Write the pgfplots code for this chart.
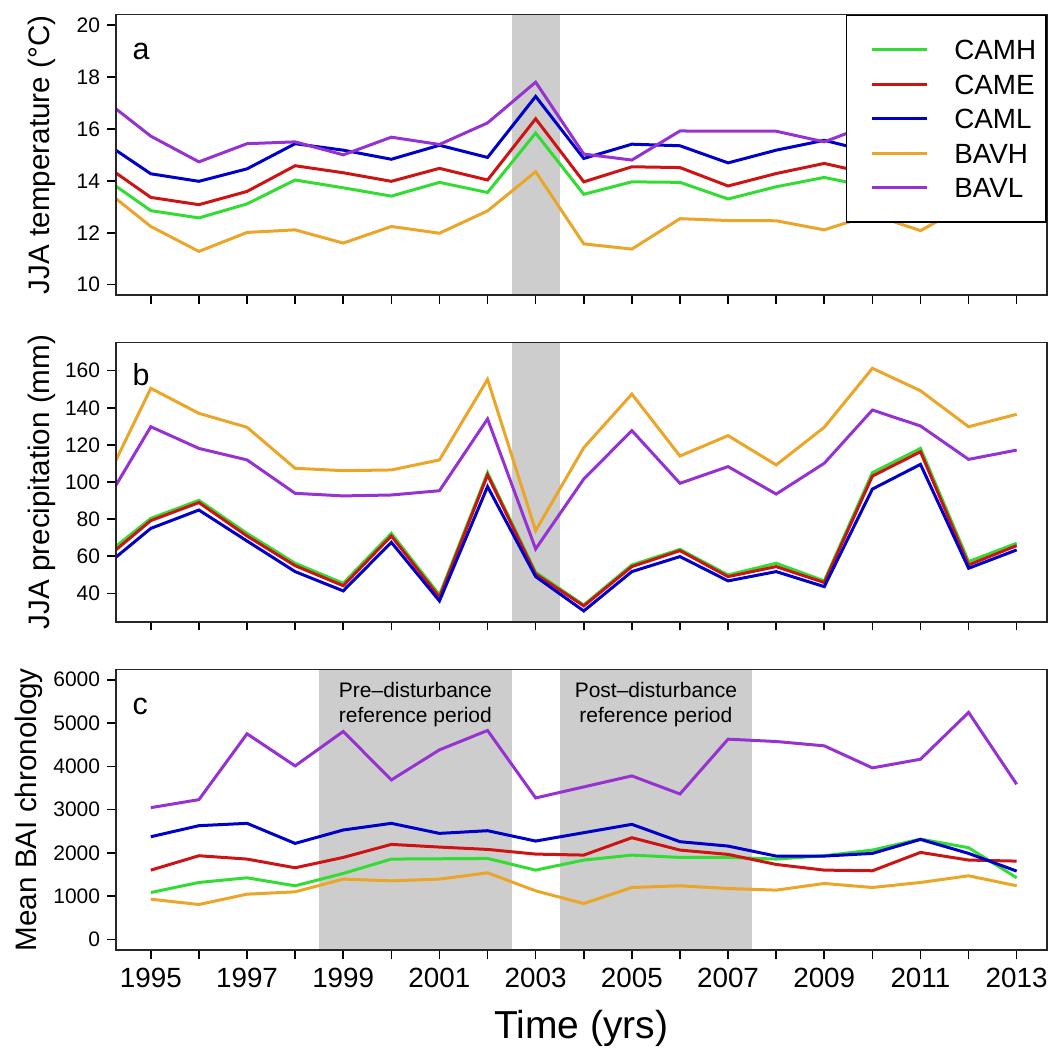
\documentclass[border=0pt]{standalone}
\usepackage{pgfplots}
\pgfplotsset{compat=1.18}
\usepackage{pgfplotstable}
\usepackage{fontspec}
\setmainfont{Liberation Sans}

\definecolor{cCAMH}{RGB}{50,220,50}
\definecolor{cCAME}{RGB}{205,20,20}
\definecolor{cCAML}{RGB}{0,0,200}
\definecolor{cBAVH}{RGB}{235,165,40}
\definecolor{cBAVL}{RGB}{150,50,210}
\definecolor{shade}{RGB}{205,205,205}

% June-August mean temperature (deg C)
\pgfplotstableread{
year CAMH  CAME  CAML  BAVH  BAVL
1994 14.15 14.66 15.52 13.72 17.17
1995 12.85 13.36 14.27 12.24 15.72
1996 12.57 13.08 13.98 11.28 14.73
1997 13.11 13.59 14.46 12.01 15.43
1998 14.03 14.58 15.43 12.11 15.50
1999 13.73 14.31 15.18 11.60 15.00
2000 13.41 13.98 14.83 12.24 15.68
2001 13.94 14.48 15.37 11.98 15.40
2002 13.55 14.03 14.90 12.84 16.23
2003 15.84 16.39 17.25 14.35 17.80
2004 13.48 13.96 14.86 11.57 15.03
2005 13.96 14.54 15.41 11.37 14.80
2006 13.94 14.51 15.35 12.54 15.92
2007 13.30 13.80 14.69 12.47 15.91
2008 13.77 14.28 15.18 12.46 15.91
2009 14.13 14.67 15.56 12.11 15.50
2010 13.75 14.25 15.10 12.70 16.20
2011 14.10 14.60 15.40 12.08 15.90
2012 13.60 14.10 15.00 13.10 15.60
2013 13.90 14.40 15.30 12.90 15.80
}\temptable

% June-August precipitation (mm)
\pgfplotstableread{
year CAMH  CAME  CAML  BAVH  BAVL
1994 59.6  57.5  53.6  97.1  86.3
1995 80.4  79.2  75.0  150.5 129.8
1996 90.1  88.9  84.9  137.0 118.1
1997 72.3  70.9  68.2  129.5 111.9
1998 56.2  54.9  51.7  107.4 93.9
1999 45.4  44.1  41.3  106.1 92.5
2000 72.3  70.9  67.5  106.5 93.0
2001 39.1  37.9  35.9  111.9 95.3
2002 105.0 103.8 97.5  155.3 134.0
2003 51.3  50.4  49.0  73.8  63.9
2004 33.7  33.2  30.5  118.5 101.6
2005 55.3  54.4  51.7  147.4 127.7
2006 63.7  63.0  59.8  114.0 99.3
2007 49.9  49.0  46.7  125.0 108.3
2008 56.2  54.4  51.7  109.2 93.5
2009 46.7  45.8  43.6  129.5 110.1
2010 105.0 103.2 96.2  161.3 138.8
2011 118.1 116.3 109.5 149.2 130.2
2012 57.1  55.3  53.5  129.8 112.2
2013 67.0  65.7  63.4  136.5 117.2
}\prectable

% Mean basal area increment chronologies
\pgfplotstableread{
year CAMH CAME CAML BAVH BAVL
1995 1087 1604 2375 933  3046
1996 1319 1936 2630 810  3231
1997 1427 1859 2684 1049 4751
1998 1242 1658 2221 1103 4010
1999 1527 1897 2530 1396 4805
2000 1859 2198 2684 1357 3686
2001 1866 2136 2452 1396 4380
2002 1874 2082 2514 1542 4828
2003 1604 1974 2275 1126 3270
2004 1836 1951 2468 833  3525
2005 1951 2352 2661 1203 3779
2006 1897 2067 2260 1242 3362
2007 1897 1967 2159 1180 4627
2008 1859 1735 1928 1142 4573
2009 1936 1604 1928 1296 4473
2010 2067 1589 1990 1203 3964
2011 2321 2013 2313 1319 4164
2012 2121 1836 1990 1473 5244
2013 1427 1812 1581 1242 3586
}\baitable

\pgfplotsset{
  panel/.style={
    scale only axis,
    width=465.65pt,
    xmin=1994.27, xmax=2013.63,
    axis on top,
    tick align=outside,
    major tick length=4.3pt,
    xtick={1995,...,2013},
    xtick pos=lower, ytick pos=left,
    tick style={line width=0.8pt, black},
    axis line style={line width=0.8pt, black!85},
    yticklabel={\pgfmathprintnumber[assume math mode=true, 1000 sep={}]{\tick}},
    yticklabel style={font=\fontsize{10.5}{12}\selectfont},
    xticklabel style={font=\fontsize{13.9}{16}\selectfont, yshift=-1pt},
    ylabel style={font=\fontsize{14.8}{17}\selectfont, anchor=center},
    every axis plot/.append style={line width=1.5pt},
  },
}
\tikzset{
  letter/.style={anchor=base west, inner sep=0pt, font=\fontsize{15.2}{17}\selectfont,
    xshift=8.3pt, yshift=-22.6pt},
}

\begin{document}
\begin{tikzpicture}

% ---------- a: temperature ----------
\begin{axis}[panel,
  at={(57.85pt,-7.35pt)}, anchor=north west, height=140.15pt,
  ymin=9.6, ymax=20.4, ytick={10,12,...,20},
  xticklabel=\empty,
  ylabel={JJA temperature (°C)},
  ylabel style={at={(axis description cs:-0.079,0.5)}},
  legend cell align=left,
  legend style={at={(rel axis cs:1,1)}, anchor=north east,
    draw=black, line width=0.9pt, fill=white,
    inner xsep=5pt, inner ysep=12pt,
    row sep=7.3pt, column sep=12.7pt,
    font=\fontsize{13.9}{16}\selectfont,
    nodes={inner sep=0pt, text height=10pt, text depth=0pt}},
  legend image code/.code={\path[draw=none] (0pt,0pt) -- (7.6pt,0pt);
    \draw[#1, line width=1.5pt] (7.6pt,0pt) -- (35.4pt,0pt);},
]
\addplot[draw=none, fill=shade, forget plot] coordinates
  {(2002.5,0) (2002.5,30) (2003.5,30) (2003.5,0)} -- cycle;
\addplot[cCAMH] table[x=year, y=CAMH] {\temptable};
\addplot[cCAME] table[x=year, y=CAME] {\temptable};
\addplot[cCAML] table[x=year, y=CAML] {\temptable};
\addplot[cBAVH] table[x=year, y=BAVH] {\temptable};
\addplot[cBAVL] table[x=year, y=BAVL] {\temptable};
\legend{CAMH, CAME, CAML, BAVH, BAVL}
\node[letter] at (rel axis cs:0,1) {a};
\end{axis}

% ---------- b: precipitation ----------
\begin{axis}[panel,
  at={(57.85pt,-171.15pt)}, anchor=north west, height=139.7pt,
  ymin=24.7, ymax=175.3, ytick={40,60,...,160},
  xticklabel=\empty,
  ylabel={JJA precipitation (mm)},
  ylabel style={at={(axis description cs:-0.079,0.5)}},
]
\addplot[draw=none, fill=shade, forget plot] coordinates
  {(2002.5,0) (2002.5,300) (2003.5,300) (2003.5,0)} -- cycle;
\addplot[cCAMH] table[x=year, y=CAMH] {\prectable};
\addplot[cCAME] table[x=year, y=CAME] {\prectable};
\addplot[cCAML] table[x=year, y=CAML] {\prectable};
\addplot[cBAVH] table[x=year, y=BAVH] {\prectable};
\addplot[cBAVL] table[x=year, y=BAVL] {\prectable};
\node[letter, yshift=0.9pt] at (rel axis cs:0,1) {b};
\end{axis}

% ---------- c: BAI chronologies ----------
\begin{axis}[panel,
  at={(57.85pt,-334.65pt)}, anchor=north west, height=140.35pt,
  ymin=-240, ymax=6240, ytick={0,1000,...,6000},
  xticklabels={1995,{},1997,{},1999,{},2001,{},2003,{},2005,{},2007,{},2009,{},2011,{},2013},
  ylabel={Mean BAI chronology},
  ylabel style={at={(axis description cs:-0.0936,0.5)}},
  xlabel={Time (yrs)},
  xlabel style={font=\fontsize{19.5}{22}\selectfont, at={(axis description cs:0.5,-0.28)}, anchor=center},
]
\addplot[draw=none, fill=shade, forget plot] coordinates
  {(1998.5,-1000) (1998.5,10000) (2002.5,10000) (2002.5,-1000)} -- cycle;
\addplot[draw=none, fill=shade, forget plot] coordinates
  {(2003.5,-1000) (2003.5,10000) (2007.5,10000) (2007.5,-1000)} -- cycle;
\addplot[cCAMH] table[x=year, y=CAMH] {\baitable};
\addplot[cCAME] table[x=year, y=CAME] {\baitable};
\addplot[cCAML] table[x=year, y=CAML] {\baitable};
\addplot[cBAVH] table[x=year, y=BAVH] {\baitable};
\addplot[cBAVL] table[x=year, y=BAVL] {\baitable};
\node[letter, yshift=-0.2pt] at (rel axis cs:0,1) {c};
\node[anchor=north, inner sep=0pt, align=center, font=\fontsize{10.5}{12.8}\selectfont]
  at (axis cs:2000.5,5953) {Pre--disturbance\\reference period};
\node[anchor=north, inner sep=0pt, align=center, font=\fontsize{10.5}{12.8}\selectfont]
  at (axis cs:2005.5,5953) {Post--disturbance\\reference period};
\end{axis}

\pgfresetboundingbox
\path (0pt,0pt) rectangle (527pt,-524pt);
\end{tikzpicture}
\end{document}
